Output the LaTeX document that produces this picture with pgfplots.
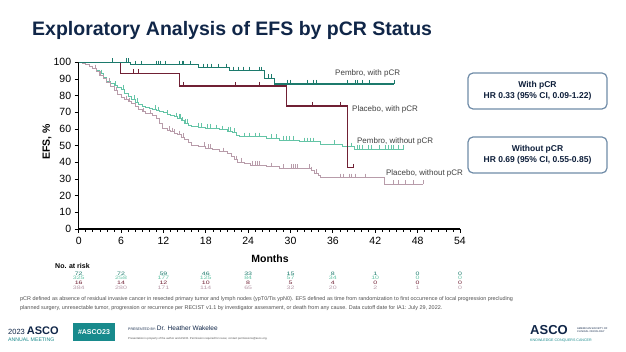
\documentclass[border=0pt]{standalone}
\usepackage{pgfplots}
\pgfplotsset{compat=1.18}
\usepackage{graphicx}
\usepackage{fontspec}
\setmainfont{Liberation Sans}
\definecolor{navy}{RGB}{16,38,72}
\definecolor{pembpcr}{RGB}{28,122,108}
\definecolor{pembno}{RGB}{100,196,166}
\definecolor{placpcr}{RGB}{112,32,52}
\definecolor{placno}{RGB}{184,156,170}
\definecolor{boxborder}{RGB}{112,140,168}
\definecolor{ascoteal}{RGB}{24,138,140}
\definecolor{foot}{RGB}{80,80,80}
\begin{document}
\begin{tikzpicture}
\fill[white] (0pt,0pt) rectangle (626pt,-352pt);
\node[anchor=base west, font=\bfseries\fontsize{19.5}{22}\selectfont, text=navy, inner sep=0pt] at (32pt,-36pt) {Exploratory Analysis of EFS by pCR Status};
\begin{axis}[
  at={(78.7pt,-229pt)}, anchor=south west, scale only axis,
  width=381.3pt, height=166.7pt,
  xmin=0, xmax=54, ymin=0, ymax=100,
  axis lines=left, axis line style={line width=1.1pt, -},
  xtick={0,6,...,54}, ytick={0,10,...,100},
  minor x tick num=5,
  tick align=outside, major tick length=4pt, minor tick length=3pt,
  major tick style={line width=0.9pt, black},
  minor tick style={line width=0.7pt, black},
  ticklabel style={font=\fontsize{10.5}{12}\selectfont},
  xticklabel style={yshift=-1pt},
  /pgf/number format/assume math mode=true,
  clip=false,
]
% Pembro, without pCR
\addplot[const plot, color=pembno, line width=0.9pt] coordinates {
(0,100)(0.5,99.4)(1,98.8)(1.5,97.8)(2,96.6)(2.5,95.1)(3,93.2)(3.5,91)(4,88.8)(4.5,87.4)(5,86.2)(5.5,85.1)(6,84)(6.5,81.5)(7,79.5)(7.5,77.8)(8,76.2)(8.5,74.8)(9,73.8)(9.5,73.0)(10,72.4)(10.5,71.8)(11,71.0)(11.5,70.4)(12,69.8)(12.5,68.8)(13,67.9)(13.5,67.4)(14,66.6)(14.5,64.9)(15,63.6)(15.5,62.1)(16,61.4)(17,61.0)(18,60.6)(19,60.2)(20,59.6)(21,58.8)(21.8,58.0)(22.4,56.4)(22.8,55.4)(26.6,54.4)(28.5,53.4)(31.3,52.4)(34.2,50.8)(37.3,49.4)(39.1,48.0)(46.0,48.0)};
\addplot[only marks, mark=|, mark size=2pt, color=pembno, mark options={yshift=2pt, line width=0.5pt}] coordinates {
(3.2,93.2)(5.2,86.2)(6.3,84.0)(7.8,77.8)(8.3,76.2)(10.8,71.8)(11.3,71.0)(12.6,68.8)(13.8,67.4)(14.2,66.6)(14.4,66.6)(14.7,64.9)(15.1,63.6)(15.4,63.6)(16.9,61.4)(17.4,61.0)(18.2,60.6)(18.7,60.6)(19.5,60.2)(20.4,59.6)(21.2,58.8)(21.5,58.8)(22.0,58.0)(23.5,55.4)(24.2,55.4)(25.0,55.4)(25.6,55.4)(27.2,54.4)(28.0,54.4)(29.0,53.4)(29.4,53.4)(29.8,53.4)(30.4,53.4)(32.0,52.4)(32.4,52.4)(32.8,52.4)(33.2,52.4)(36.2,50.8)(38.6,49.4)(39.4,48.0)(39.8,48.0)(40.2,48.0)(41.0,48.0)(41.4,48.0)(42.6,48.0)(43.4,48.0)(43.8,48.0)(44.2,48.0)(44.6,48.0)(45.2,48.0)(46.0,48.0)};
% Placebo, without pCR
\addplot[const plot, color=placno, line width=0.9pt] coordinates {
(0,100)(0.5,99.4)(1,98.8)(1.5,97.6)(2,96.2)(2.5,94.4)(3,92.4)(3.5,90.2)(4,88)(4.5,85.5)(5,83)(5.5,80.8)(6,79)(6.5,77.6)(7,76.4)(7.5,75.5)(8,73.6)(8.5,71.6)(9,70.4)(9.5,69.6)(10,69.2)(10.5,68.4)(11,66.4)(11.4,63.5)(11.8,60.4)(12.5,59.2)(13,58.4)(13.5,57.4)(14,56.6)(14.5,55)(15,53.6)(15.5,51.8)(16,50.4)(17,49.6)(18,48.4)(19,47.6)(20,46.4)(21,45.2)(21.6,43.4)(22.1,41.6)(22.5,40.2)(23.5,39.2)(24.3,38.4)(26.6,37.4)(28.5,36.4)(32.9,35.0)(33.4,33.4)(33.9,32.2)(34.2,30.8)(43.3,26.8)(48.8,26.8)};
\addplot[only marks, mark=|, mark size=2pt, color=placno, mark options={yshift=2pt, line width=0.5pt}] coordinates {
(2.3,96.2)(3.0,92.4)(4.3,88)(5.3,83)(6.8,77.6)(7.2,76.4)(9.2,70.4)(10.2,69.2)(12.8,59.2)(13.3,58.4)(13.6,57.4)(14.2,56.6)(14.8,55.0)(17.8,49.6)(18.3,48.4)(18.6,48.4)(20.5,46.4)(22.3,41.6)(23.0,40.2)(24.6,38.4)(25.0,38.4)(25.3,38.4)(25.6,38.4)(27.3,37.4)(29.0,36.4)(30.1,36.4)(30.4,36.4)(30.7,36.4)(31.0,36.4)(32.6,36.4)(33.0,35.0)(33.6,33.4)(37.0,30.8)(37.5,30.8)(38.3,30.8)(38.6,30.8)(39.2,30.8)(40.6,30.8)(44.6,26.8)(45.3,26.8)(46.2,26.8)(47.4,26.8)(48.8,26.8)};
% Placebo, with pCR
\addplot[const plot, color=placpcr, line width=1.1pt] coordinates {
(0,100)(5.9,93.4)(14.25,85.8)(29.4,73.8)(38.1,36.7)(38.9,36.7)};
\addplot[only marks, mark=|, mark size=2pt, color=placpcr, mark options={yshift=2pt, line width=0.5pt}] coordinates {
(7.7,93.4)(8.4,93.4)(14.8,85.8)(22.1,85.8)(25.5,85.8)(33.1,73.8)(37.1,73.8)(38.9,36.7)};
% Pembro, with pCR
\addplot[const plot, color=pembpcr, line width=1.1pt] coordinates {
(0,100)(7.3,98.6)(17.0,96.8)(21.3,95.0)(26.3,90.5)(27.7,87.0)(44.7,87.0)};
\addplot[only marks, mark=|, mark size=2pt, color=pembpcr, mark options={yshift=2pt, line width=0.5pt}] coordinates {
(4.8,100)(6.8,100)(7.0,100)(8.0,98.6)(8.9,98.6)(11.0,98.6)(11.3,98.6)(11.5,98.6)(12.2,98.6)(14.3,98.6)(14.6,98.6)(14.8,98.6)(15.8,98.6)(17.6,96.8)(18.2,96.8)(18.8,96.8)(19.8,96.8)(20.9,96.8)(21.9,95.0)(22.6,95.0)(23.3,95.0)(24.1,95.0)(25.6,95.0)(25.9,95.0)(26.9,90.5)(27.3,90.5)(29.5,87.0)(29.9,87.0)(32.4,87.0)(33.2,87.0)(33.6,87.0)(38.0,87.0)(39.1,87.0)(39.5,87.0)(40.1,87.0)(41.2,87.0)(44.7,87.0)};
\begin{scope}[every node/.style={anchor=west, inner sep=0pt, text=black!75, font=\fontsize{8}{9}\selectfont}]
\node at (axis cs:36.3,93.6) {Pembro, with pCR};
\node at (axis cs:38.7,72.0) {Placebo, with pCR};
\node at (axis cs:39.4,52.8) {Pembro, without pCR};
\node at (axis cs:43.5,33.6) {Placebo, without pCR};
\end{scope}
\end{axis}
% axis titles
\node[rotate=90, font=\bfseries\fontsize{10.5}{12}\selectfont, inner sep=0pt] at (47pt,-142pt) {EFS, \%};
\node[font=\bfseries\fontsize{10.5}{12}\selectfont, inner sep=0pt] at (270pt,-259pt) {Months};
% HR boxes
\draw[boxborder, line width=1.2pt, rounded corners=5pt] (468pt,-73pt) rectangle (607pt,-109pt);
\node[font=\bfseries\fontsize{8.5}{10}\selectfont, text=navy!80!black, inner sep=0pt] at (537.5pt,-85pt) {With pCR};
\node[font=\bfseries\fontsize{8.5}{10}\selectfont, text=navy!80!black, inner sep=0pt] at (537.5pt,-96.5pt) {HR 0.33 (95\% CI, 0.09-1.22)};
\draw[boxborder, line width=1.2pt, rounded corners=5pt] (468pt,-137pt) rectangle (607pt,-173pt);
\node[font=\bfseries\fontsize{8.5}{10}\selectfont, text=navy!80!black, inner sep=0pt] at (537.5pt,-149pt) {Without pCR};
\node[font=\bfseries\fontsize{8.5}{10}\selectfont, text=navy!80!black, inner sep=0pt] at (537.5pt,-160.5pt) {HR 0.69 (95\% CI, 0.55-0.85)};
% number at risk
\node[anchor=west, font=\bfseries\fontsize{7}{8}\selectfont, inner sep=0pt] at (55pt,-265.5pt) {No. at risk};
\foreach \v [count=\i from 0] in {72,72,59,46,33,15,8,1,0,0}
  \node[font=\fontsize{7}{8}\selectfont, text=pembpcr, inner sep=0pt] at ({78.7pt+42.36pt*\i},-273.5pt) {\scalebox{1}[0.7]{\v}};
\foreach \v [count=\i from 0] in {325,258,177,125,84,57,34,10,0,0}
  \node[font=\fontsize{7}{8}\selectfont, text=pembno, inner sep=0pt] at ({78.7pt+42.36pt*\i},-278.2pt) {\scalebox{1}[0.7]{\v}};
\foreach \v [count=\i from 0] in {16,14,12,10,8,5,4,0,0,0}
  \node[font=\fontsize{7}{8}\selectfont, text=placpcr, inner sep=0pt] at ({78.7pt+42.36pt*\i},-282.9pt) {\scalebox{1}[0.7]{\v}};
\foreach \v [count=\i from 0] in {384,280,171,114,65,32,20,2,1,0}
  \node[font=\fontsize{7}{8}\selectfont, text=placno, inner sep=0pt] at ({78.7pt+42.36pt*\i},-287.6pt) {\scalebox{1}[0.7]{\v}};
% footnote
\node[anchor=west, font=\fontsize{5.45}{6}\selectfont, text=foot, inner sep=0pt] at (20pt,-299pt) {pCR defined as absence of residual invasive cancer in resected primary tumor and lymph nodes (ypT0/Tis ypN0). EFS defined as time from randomization to first occurrence of local progression precluding};
\node[anchor=west, font=\fontsize{5.45}{6}\selectfont, text=foot, inner sep=0pt] at (20pt,-308pt) {planned surgery, unresectable tumor, progression or recurrence per RECIST v1.1 by investigator assessment, or death from any cause. Data cutoff date for IA1: July 29, 2022.};
% footer
\node[anchor=west, inner sep=0pt, text=navy] at (8pt,-331pt) {\fontsize{7.5}{8}\selectfont 2023 \fontsize{11}{12}\selectfont\bfseries ASCO};
\node[anchor=west, inner sep=0pt, text=ascoteal, font=\fontsize{5.2}{6}\selectfont] at (8pt,-340pt) {ANNUAL MEETING};
\fill[ascoteal] (73pt,-323pt) rectangle (115pt,-341pt);
\node[text=white, font=\bfseries\fontsize{7}{8}\selectfont, inner sep=0pt] at (94pt,-332pt) {\#ASCO23};
\node[anchor=west, inner sep=0pt, text=navy] at (128pt,-328pt) {\fontsize{3.5}{4}\selectfont PRESENTED BY: \fontsize{6.5}{7}\selectfont Dr. Heather Wakelee};
\node[anchor=west, inner sep=0pt, text=foot, font=\fontsize{2.8}{3}\selectfont] at (128pt,-339pt) {Presentation is property of the author and ASCO. Permission required for reuse; contact permissions@asco.org.};
\node[anchor=west, inner sep=0pt, text=navy, font=\bfseries\fontsize{13}{14}\selectfont] at (530pt,-330pt) {ASCO};
\node[anchor=west, inner sep=0pt, text=navy, align=left, font=\fontsize{2.6}{3}\selectfont] at (577pt,-330pt) {AMERICAN SOCIETY OF\\CLINICAL ONCOLOGY};
\node[anchor=west, inner sep=0pt, text=ascoteal, font=\fontsize{3.6}{4}\selectfont] at (530pt,-340.5pt) {KNOWLEDGE CONQUERS CANCER};
\end{tikzpicture}
\end{document}
